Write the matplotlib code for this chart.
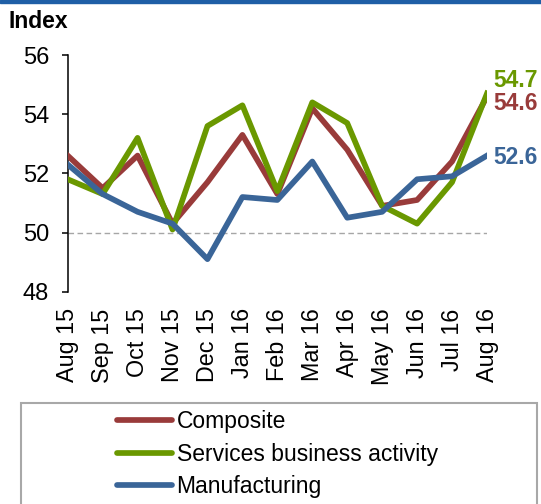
import matplotlib
matplotlib.use("Agg")
import matplotlib.pyplot as plt
from matplotlib.patches import Rectangle
from matplotlib.lines import Line2D

plt.rcParams['font.family'] = ['Liberation Sans', 'DejaVu Sans']

months = ["Aug 15", "Sep 15", "Oct 15", "Nov 15", "Dec 15", "Jan 16", "Feb 16",
          "Mar 16", "Apr 16", "May 16", "Jun 16", "Jul 16", "Aug 16"]
composite = [52.6, 51.5, 52.6, 50.3, 51.7, 53.3, 51.3, 54.2, 52.8, 50.9, 51.1, 52.4, 54.6]
services = [51.8, 51.3, 53.2, 50.1, 53.6, 54.3, 51.4, 54.4, 53.7, 50.9, 50.3, 51.7, 54.7]
manufacturing = [52.3, 51.3, 50.7, 50.3, 49.1, 51.2, 51.1, 52.4, 50.5, 50.7, 51.8, 51.9, 52.6]
yticks = [48, 50, 52, 54, 56]

c_comp = "#993B3A"
c_serv = "#6A9800"
c_manu = "#3A6598"

W, H = 541, 504
fig = plt.figure(figsize=(W / 100, H / 100), dpi=100)
ax = fig.add_axes([67.7 / W, 1 - 291.7 / H, (487 - 67.7) / W, (291.7 - 55) / H])

x = list(range(len(months)))
ax.axhline(50, xmin=0, xmax=1, color="#A6A6A6", lw=1.0, ls=(0, (4, 2.5)), zorder=1)
ax.plot(x, composite, color=c_comp, lw=4.1, zorder=3, label="Composite")
ax.plot(x, services, color=c_serv, lw=4.1, zorder=4, label="Services business activity")
ax.plot(x, manufacturing, color=c_manu, lw=4.1, zorder=5, label="Manufacturing")

ax.set_xlim(0, 12)
ax.set_ylim(48, 56)
ax.set_yticks(yticks)
ax.set_yticklabels([str(v) for v in yticks], fontsize=17)
ax.set_xticks(x)
ax.set_xticklabels(months, rotation=90, fontsize=16.8, va="top", ha="center")
ax.tick_params(axis="x", length=0, pad=12)
ax.tick_params(axis="y", length=4.3, width=1.1, direction="out", pad=9)
for s in ["top", "right", "bottom"]:
    ax.spines[s].set_visible(False)
ax.spines["left"].set_linewidth(1.1)

# end labels
ax.annotate(f"{services[-1]:.1f}", xy=(12, services[-1]), xytext=(6, 13),
            textcoords="offset pixels", color=c_serv, fontsize=16.5,
            fontweight="bold", va="center", ha="left", annotation_clip=False)
ax.annotate(f"{composite[-1]:.1f}", xy=(12, composite[-1]), xytext=(6, -7),
            textcoords="offset pixels", color=c_comp, fontsize=16.5,
            fontweight="bold", va="center", ha="left", annotation_clip=False)
ax.annotate(f"{manufacturing[-1]:.1f}", xy=(12, manufacturing[-1]), xytext=(6, -2),
            textcoords="offset pixels", color=c_manu, fontsize=16.5,
            fontweight="bold", va="center", ha="left", annotation_clip=False)

# title
fig.text(8 / W, 1 - 21 / H, "Index", fontsize=16.5, fontweight="bold",
         ha="left", va="center")

# top bar
fig.patches.append(Rectangle((0, 1 - 3 / H), 1, 3 / H, transform=fig.transFigure,
                             color="#1F5FA6", zorder=0))

# legend box
fig.patches.append(Rectangle((21 / W, -0.05), (537 - 21) / W, 0.05 + 1 - 403 / H,
                             transform=fig.transFigure, fill=False,
                             edgecolor="#A8A8A8", lw=1.5, zorder=0))

handles = [Line2D([], [], color=c, lw=4.1, solid_capstyle="round")
           for c in (c_comp, c_serv, c_manu)]
leg = fig.legend(handles, ["Composite", "Services business activity", "Manufacturing"],
                 loc="upper left", bbox_to_anchor=(117 / W, 1 - 410 / H),
                 frameon=False, fontsize=16.5, handlelength=2.4,
                 handletextpad=0.2, labelspacing=0.42, borderpad=0,
                 borderaxespad=0)

fig.savefig("out.png", dpi=100)
